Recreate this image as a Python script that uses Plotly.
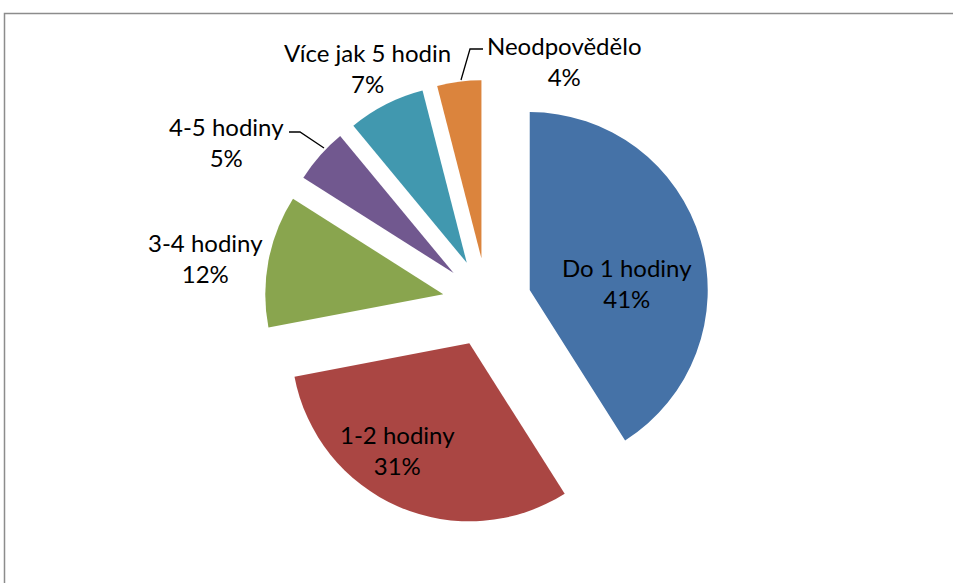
import plotly.graph_objects as go

categories = ["Do 1 hodiny", "1-2 hodiny", "3-4 hodiny", "4-5 hodiny", "Více jak 5 hodin", "Neodpovědělo"]
values = [41, 31, 12, 5, 7, 4]
colors = ["#4572A7", "#AA4643", "#89A54E", "#71588F", "#4198AF", "#DB843D"]

# label block centres (pixels in the 953x583 canvas)
label_pos = [(627, 283), (397, 450), (205, 258), (226, 142), (367, 68), (564, 61)]

W, H = 953, 583
FONT = "Lato"

fig = go.Figure()
fig.add_trace(go.Pie(
    labels=categories,
    values=values,
    sort=False,
    direction="clockwise",
    rotation=0,
    pull=[0.25] * len(values),
    marker=dict(colors=colors, line=dict(width=0)),
    textinfo="none",
    hoverinfo="label+percent",
    showlegend=False,
    domain=dict(x=[264.5 / W, 709.5 / W], y=[1 - 525 / H, 1 - 80 / H]),
))

total = sum(values)
for cat, val, (px, py) in zip(categories, values, label_pos):
    fig.add_annotation(
        x=px / W, y=1 - py / H, xref="paper", yref="paper",
        xanchor="center", yanchor="middle",
        text=f"{cat}<br>{round(100 * val / total)}%",
        showarrow=False, align="center",
        font=dict(family=FONT, size=24, color="#000000"),
    )

def px_line(points):
    path = "M " + " L ".join(f"{x / W},{1 - y / H}" for x, y in points)
    return dict(type="path", xref="paper", yref="paper", path=path,
                line=dict(color="#000000", width=1.3))

fig.add_shape(px_line([(289, 132), (300, 132), (324, 148)]))
fig.add_shape(px_line([(483, 49), (470, 49), (461, 80)]))

# chart border
fig.add_shape(type="rect", xref="paper", yref="paper",
              x0=4.5 / W, x1=1.02, y0=-0.02, y1=1 - 13.5 / H,
              line=dict(color="#8C8C8C", width=1.5), fillcolor="rgba(0,0,0,0)")

fig.update_layout(
    width=W, height=H,
    margin=dict(l=0, r=0, t=0, b=0),
    paper_bgcolor="#FFFFFF", plot_bgcolor="#FFFFFF",
)
fig.write_html(
    "out.html",
    config={"displayModeBar": False},
    post_script="document.body.style.margin='0';document.body.style.overflow='hidden';",
)
